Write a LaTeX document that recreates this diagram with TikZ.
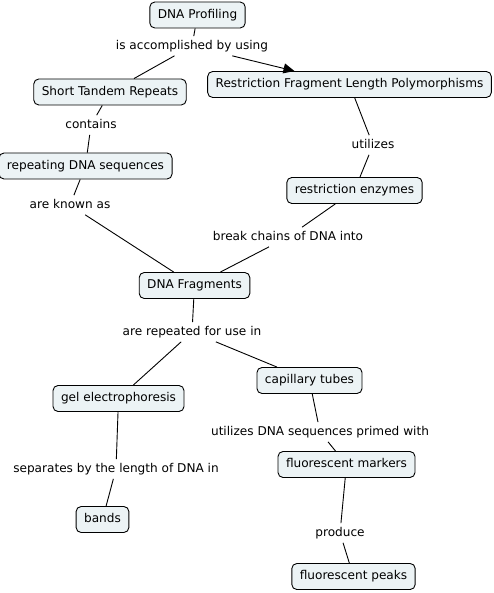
\documentclass[tikz,border=0pt]{standalone}
\usepackage{fontspec}
\setmainfont{DejaVu Sans}
\usetikzlibrary{arrows.meta}
\definecolor{boxfill}{RGB}{236,243,245}
\tikzset{
  concept/.style={draw=black, line width=0.9pt, fill=boxfill, rounded corners=5pt,
    minimum height=26pt, inner xsep=8pt, inner ysep=0pt, font=\fontsize{12.1}{14}\selectfont,
    text height=8.9pt, text depth=2.4pt},
  lbl/.style={inner xsep=1pt, inner ysep=4pt, font=\fontsize{12.1}{14}\selectfont,
    text height=8.9pt, text depth=2.4pt},
  link/.style={draw=black, line width=0.9pt},
  arr/.style={link, -{Triangle[length=11pt,width=10pt]}}
}
\begin{document}
\begin{tikzpicture}[x=1pt,y=-1pt]
\useasboundingbox (0,0) rectangle (494,593);
% concepts
\node[concept] (prof) at (197.5,15) {DNA Profiling};
\node[concept] (str) at (110,92) {Short Tandem Repeats};
\node[concept] (rflp) at (349.5,84.5) {Restriction Fragment Length Polymorphisms};
\node[concept] (rep) at (85.5,166) {repeating DNA sequences};
\node[concept] (enz) at (354.5,190.5) {restriction enzymes};
\node[concept] (frag) at (194.5,285.5) {DNA Fragments};
\node[concept] (cap) at (309.5,380.5) {capillary tubes};
\node[concept] (gel) at (118.5,398.5) {gel electrophoresis};
\node[concept] (bands) at (102.5,519.5) {bands};
\node[concept] (mark) at (346.5,464.5) {fluorescent markers};
\node[concept] (peaks) at (353.5,576.5) {fluorescent peaks};
% labels
\node[lbl] (l1) at (192,46) {is accomplished by using};
\node[lbl] (l2) at (91,125) {contains};
\node[lbl] (l3) at (373,145) {utilizes};
\node[lbl] (l4) at (70,205) {are known as};
\node[lbl] (l5) at (288,237) {break chains of DNA into};
\node[lbl] (l6) at (192,332) {are repeated for use in};
\node[lbl] (l7) at (320,432) {utilizes DNA sequences primed with};
\node[lbl] (l8) at (116,469) {separates by the length of DNA in};
\node[lbl] (l9) at (340,533) {produce};
% links
\draw[link] (prof) -- (l1);
\draw[link] (l1) -- (str);
\draw[arr] (l1) -- (rflp);
\draw[link] (str) -- (l2);
\draw[link] (l2) -- (rep);
\draw[link] (rflp) -- (l3);
\draw[link] (l3) -- (enz);
\draw[link] (rep) -- (l4);
\draw[link] (l4) -- (frag);
\draw[link] (enz) -- (l5);
\draw[link] (l5) -- (frag);
\draw[link] (frag) -- (l6);
\draw[link] (l6) -- (gel);
\draw[link] (l6) -- (cap);
\draw[link] (cap) -- (l7);
\draw[link] (l7) -- (mark);
\draw[link] (gel) -- (l8);
\draw[link] (l8) -- (bands);
\draw[link] (mark) -- (l9);
\draw[link] (l9) -- (peaks);
\end{tikzpicture}
\end{document}
